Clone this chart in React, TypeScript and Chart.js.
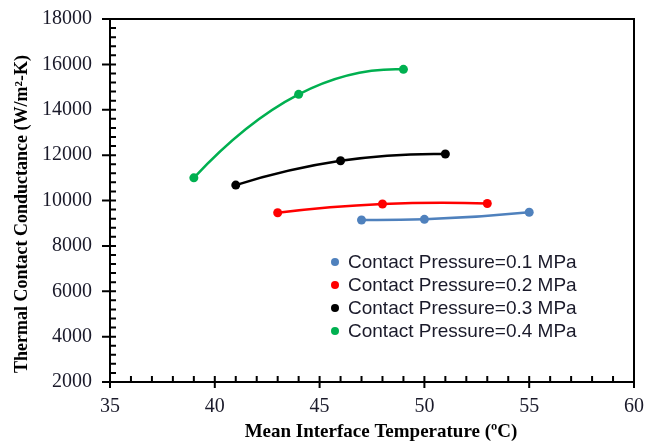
import React, { useEffect, useRef } from "react";
import { Chart, registerables } from "chart.js";

Chart.register(...registerables);

const seriesLabels = [
  "Contact Pressure=0.1 MPa",
  "Contact Pressure=0.2 MPa",
  "Contact Pressure=0.3 MPa",
  "Contact Pressure=0.4 MPa",
];
const seriesColors = ["#4F81BD", "#FF0000", "#000000", "#00B050"];

const temps01 = [47, 50, 55];
const tcc01 = [9140, 9170, 9480];
const temps02 = [43, 48, 53];
const tcc02 = [9460, 9845, 9870];
const temps03 = [41, 46, 51];
const tcc03 = [10680, 11750, 12050];
const temps04 = [39, 44, 49];
const tcc04 = [11000, 14680, 15780];

const xTicks = [35, 40, 45, 50, 55, 60];
const yTicks = [2000, 4000, 6000, 8000, 10000, 12000, 14000, 16000, 18000];

const xTitle = "Mean Interface Temperature (ºC)";
const yTitle = "Thermal Contact Conductance (W/m²-K)";

const allTemps = [temps01, temps02, temps03, temps04];
const allTcc = [tcc01, tcc02, tcc03, tcc04];

// smooth curve: tangent of the parabola through each 3 consecutive points (pixel space)
const smoothPlugin = {
  id: "smoothCurve",
  beforeDatasetDraw(chart: any, args: any) {
    const meta = args.meta;
    const line = meta.dataset;
    const pts = meta.data;
    if (!line || !pts || pts.length < 3) return;
    if (line.updateControlPoints) line.updateControlPoints(chart.chartArea, "x");
    const n = pts.length;
    const slopes: number[] = [];
    for (let i = 0; i < n; i++) {
      const a = Math.max(0, Math.min(i - 1, n - 3));
      const p0 = pts[a], p1 = pts[a + 1], p2 = pts[a + 2];
      const x = pts[i].x;
      const d =
        (p0.y * (2 * x - p1.x - p2.x)) / ((p0.x - p1.x) * (p0.x - p2.x)) +
        (p1.y * (2 * x - p0.x - p2.x)) / ((p1.x - p0.x) * (p1.x - p2.x)) +
        (p2.y * (2 * x - p0.x - p1.x)) / ((p2.x - p0.x) * (p2.x - p1.x));
      slopes.push(d);
    }
    for (let i = 0; i < n; i++) {
      const p = pts[i];
      const hPrev = i > 0 ? (p.x - pts[i - 1].x) / 3 : 0;
      const hNext = i < n - 1 ? (pts[i + 1].x - p.x) / 3 : 0;
      p.cp1x = p.x - hPrev;
      p.cp1y = p.y - hPrev * slopes[i];
      p.cp2x = p.x + hNext;
      p.cp2y = p.y + hNext * slopes[i];
    }
    line._pointsUpdated = true;
    line._path = undefined;
  },
};

const decorPlugin = {
  id: "decor",
  afterDraw(chart: any) {
    const { ctx, chartArea } = chart;
    const xs = chart.scales.x;
    const ys = chart.scales.y;
    const { left, right, top, bottom } = chartArea;
    ctx.save();
    ctx.strokeStyle = "#000";
    ctx.lineWidth = 2;
    ctx.beginPath();
    ctx.rect(left, top, right - left, bottom - top);
    ctx.stroke();

    ctx.lineWidth = 2;
    ctx.beginPath();
    for (let v = xTicks[0]; v <= xTicks[xTicks.length - 1]; v += 1) {
      const px = xs.getPixelForValue(v);
      if ((v - xTicks[0]) % 5 === 0) {
        ctx.moveTo(px, bottom - 6);
        ctx.lineTo(px, bottom + 6);
      } else {
        ctx.moveTo(px, bottom - 6);
        ctx.lineTo(px, bottom);
      }
    }
    for (let v = yTicks[0]; v <= yTicks[yTicks.length - 1]; v += 400) {
      const py = ys.getPixelForValue(v);
      if ((v - yTicks[0]) % 2000 === 0) {
        ctx.moveTo(left - 8, py);
        ctx.lineTo(left + 6, py);
      } else {
        ctx.moveTo(left, py);
        ctx.lineTo(left + 6, py);
      }
    }
    ctx.stroke();

    ctx.fillStyle = "#000";
    ctx.textAlign = "center";
    ctx.textBaseline = "middle";
    ctx.font = "bold 19px 'Liberation Serif'";
    ctx.fillText(xTitle, 381, 432);
    ctx.save();
    ctx.translate(22, 214);
    ctx.rotate(-Math.PI / 2);
    ctx.font = "bold 18px 'Liberation Serif'";
    ctx.fillText(yTitle, 0, 0);
    ctx.restore();

    const rows = [262, 285, 308, 331];
    ctx.font = "19px 'Liberation Sans'";
    ctx.textAlign = "left";
    seriesLabels.forEach((lab, i) => {
      ctx.fillStyle = seriesColors[i];
      ctx.beginPath();
      ctx.arc(335, rows[i], 4, 0, Math.PI * 2);
      ctx.fill();
      ctx.fillStyle = "#1a1a2a";
      ctx.fillText(lab, 348, rows[i] + 1);
    });
    ctx.restore();
  },
};

export default function App() {
  const ref = useRef<HTMLCanvasElement | null>(null);
  useEffect(() => {
    document.body.style.margin = "0";
    const canvas = ref.current!;
    const chart = new Chart(canvas, {
      type: "line",
      data: {
        datasets: seriesLabels.map((lab, i) => ({
          label: lab,
          data: allTemps[i].map((t, j) => ({ x: t, y: allTcc[i][j] })),
          borderColor: seriesColors[i],
          backgroundColor: seriesColors[i],
          borderWidth: 2.5,
          pointRadius: 4.5,
          pointHoverRadius: 4.5,
          pointBorderWidth: 0,
          tension: 0.3,
          fill: false,
        })),
      },
      options: {
        animation: false,
        responsive: false,
        maintainAspectRatio: false,
        layout: { padding: { top: 19, right: 12, left: 0, bottom: 0 } },
        plugins: {
          legend: { display: false },
          tooltip: { enabled: false },
        },
        scales: {
          x: {
            type: "linear",
            min: 35,
            max: 60,
            afterBuildTicks: (s: any) => {
              s.ticks = xTicks.map((v) => ({ value: v }));
            },
            afterFit: (s: any) => {
              s.height = 62;
              s.paddingLeft = 0;
              s.paddingRight = 0;
            },
            grid: { display: false, drawTicks: false },
            border: { display: false },
            ticks: {
              padding: 13,
              color: "#1a1a2a",
              font: { family: "'Liberation Serif'", size: 20 },
              callback: (v: any) => String(v),
            },
          },
          y: {
            type: "linear",
            min: 2000,
            max: 18000,
            afterBuildTicks: (s: any) => {
              s.ticks = yTicks.map((v) => ({ value: v }));
            },
            afterFit: (s: any) => {
              s.width = 110;
              s.paddingTop = 0;
              s.paddingBottom = 0;
            },
            grid: { display: false, drawTicks: false },
            border: { display: false },
            ticks: {
              padding: 18,
              color: "#1a1a2a",
              font: { family: "'Liberation Serif'", size: 20 },
              callback: (v: any) => String(v),
            },
          },
        },
      },
      plugins: [smoothPlugin, decorPlugin],
    });
    return () => chart.destroy();
  }, []);
  return (
    <div style={{ width: 646, height: 444 }}>
      <canvas ref={ref} width={646} height={444} style={{ width: 646, height: 444, display: "block" }} />
    </div>
  );
}
